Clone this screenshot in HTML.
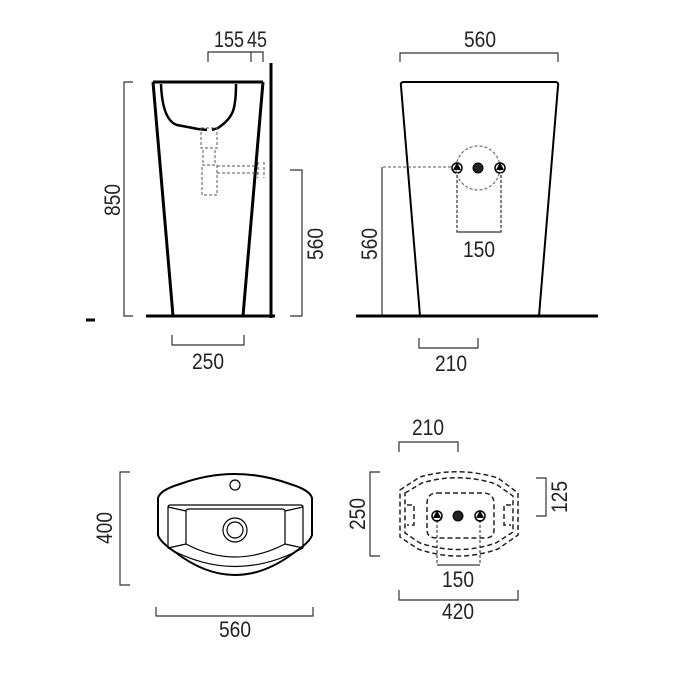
<!DOCTYPE html>
<html><head><style>html,body{margin:0;padding:0;background:#fff}svg{display:block}</style></head>
<body>
<svg width="700" height="700" viewBox="0 0 700 700" xmlns="http://www.w3.org/2000/svg" font-family="Liberation Sans, sans-serif" font-size="22" fill="none" stroke="#000">
<g fill="#222" stroke="none" text-anchor="middle">
<text x="229" y="47" textLength="30" lengthAdjust="spacingAndGlyphs">155</text>
<text x="257" y="47" textLength="20" lengthAdjust="spacingAndGlyphs">45</text>
<text x="480" y="47" textLength="32" lengthAdjust="spacingAndGlyphs">560</text>
<text x="208" y="369" textLength="32" lengthAdjust="spacingAndGlyphs">250</text>
<text x="479" y="257" textLength="32" lengthAdjust="spacingAndGlyphs">150</text>
<text x="451" y="371" textLength="32" lengthAdjust="spacingAndGlyphs">210</text>
<text x="235" y="637" textLength="32" lengthAdjust="spacingAndGlyphs">560</text>
<text x="428" y="435" textLength="32" lengthAdjust="spacingAndGlyphs">210</text>
<text x="458" y="587" textLength="32" lengthAdjust="spacingAndGlyphs">150</text>
<text x="458" y="619" textLength="32" lengthAdjust="spacingAndGlyphs">420</text>
<text transform="translate(120,200) rotate(-90)" textLength="32" lengthAdjust="spacingAndGlyphs">850</text>
<text transform="translate(323,244) rotate(-90)" textLength="32" lengthAdjust="spacingAndGlyphs">560</text>
<text transform="translate(377,244) rotate(-90)" textLength="32" lengthAdjust="spacingAndGlyphs">560</text>
<text transform="translate(112,528) rotate(-90)" textLength="32" lengthAdjust="spacingAndGlyphs">400</text>
<text transform="translate(365,514) rotate(-90)" textLength="32" lengthAdjust="spacingAndGlyphs">250</text>
<text transform="translate(567,497) rotate(-90)" textLength="32" lengthAdjust="spacingAndGlyphs">125</text>
</g>
<g stroke="#333" stroke-width="1.2">
<path d="M208 62V52H263V62M251 52V62"/>
<path d="M133 82H124V316H133"/>
<path d="M290 170H302V316H290"/>
<path d="M172 335V345H244V335"/>
<path d="M400 62V53H558V62"/>
<path d="M419 338V348H478V338"/>
<path d="M382 316V167"/>
<path d="M457 173V232H501V173"/>
<path d="M130 472H120V585H130"/>
<path d="M156 607V616H313V607"/>
<path d="M399 452V442H458V452"/>
<path d="M380 472H370V556H380"/>
<path d="M536 478H546V516H536"/>
<path d="M399 590V600H518V590"/>
<path d="M437 565H480"/>
</g>
<g stroke-width="3">
<path d="M271 63V318"/>
<path d="M146 316H275"/>
<path d="M153 82H263"/>
<path d="M153 82L173 316M263 82L243 316"/>
</g>
<path d="M86 320H95" stroke-width="3"/>
<path d="M161 84C162 110 168 122 177 125L198 129L207 130" stroke-width="2.5"/>
<path d="M236 84C236 110 233 118 218 128L212 130" stroke-width="2.5"/>
<g stroke="#555" stroke-width="1" stroke-dasharray="3,2">
<rect x="201" y="128" width="16" height="20"/>
<rect x="202" y="165" width="15" height="30"/>
<path d="M217 166H258M217 173H258M258 162V178M264 162V178"/>
<path d="M203 150V164M215 150V164"/>
</g>
<path d="M404 82H555Q559 82 558 86L539 316M404 82Q400 82 401 86L420 316" stroke-width="2"/>
<path d="M356 316H598" stroke-width="3"/>
<circle cx="478" cy="168" r="22" stroke="#555" stroke-dasharray="3,2"/>
<path d="M383 167H451" stroke="#555" stroke-dasharray="3,2"/>
<g stroke-width="1.5"><circle cx="457" cy="168" r="5"/><circle cx="500" cy="168" r="5"/></g>
<circle cx="478" cy="168" r="5" fill="#222"/>
<g fill="#000" stroke="none"><path d="M453 170L457 162L461 170Z"/><path d="M496 170L500 162L504 170Z"/></g>
<path d="M457 173V232M501 173V232" stroke="#fff" stroke-width="1.2" stroke-dasharray="2,3"/>
<g stroke-width="2">
<path d="M158 498Q160 490 180 484Q235 464 290 484Q310 490 312 498V535Q310 542 295 552Q235 598 175 552Q160 542 158 535Z"/>
</g>
<g stroke-width="1.2">
<path d="M168 507Q168 505 171 505H300Q303 505 303 507V548Q235 585 168 548Z"/>
<path d="M186 511Q186 509 190 509H281Q285 509 285 511V544Q235 570 186 544Z"/>
<path d="M168 507L186 511M303 507L285 511M168 548L186 544M303 548L285 544"/>
<circle cx="235" cy="530" r="12"/><circle cx="235" cy="530" r="8"/>
<circle cx="235" cy="485" r="5"/>
</g>
<g stroke="#222" stroke-width="1.5" stroke-dasharray="5,3">
<path d="M400 490L420 477Q458 466 498 478L518 493V535L498 549Q458 563 418 549L400 537Z"/>
<path d="M405 493L422 483Q458 472 496 484L513 496V532L496 543Q458 556 420 543L405 533Z"/>
<path d="M437 493H483Q494 493 494 504V530Q494 538 485 538H437Q427 538 427 530V504Q427 493 437 493Z"/>
<path d="M407 505H414V525H407M511 505H504V525H511"/>
<path d="M437 520V565M480 520V565" stroke-width="1" stroke-dasharray="3,2"/>
</g>
<g stroke-width="1.5"><circle cx="437" cy="516" r="5"/><circle cx="480" cy="516" r="5"/></g>
<circle cx="458" cy="516" r="5" fill="#222"/>
<g fill="#000" stroke="none"><path d="M433 518L437 510L441 518Z"/><path d="M476 518L480 510L484 518Z"/></g>
</svg>
</body></html>
